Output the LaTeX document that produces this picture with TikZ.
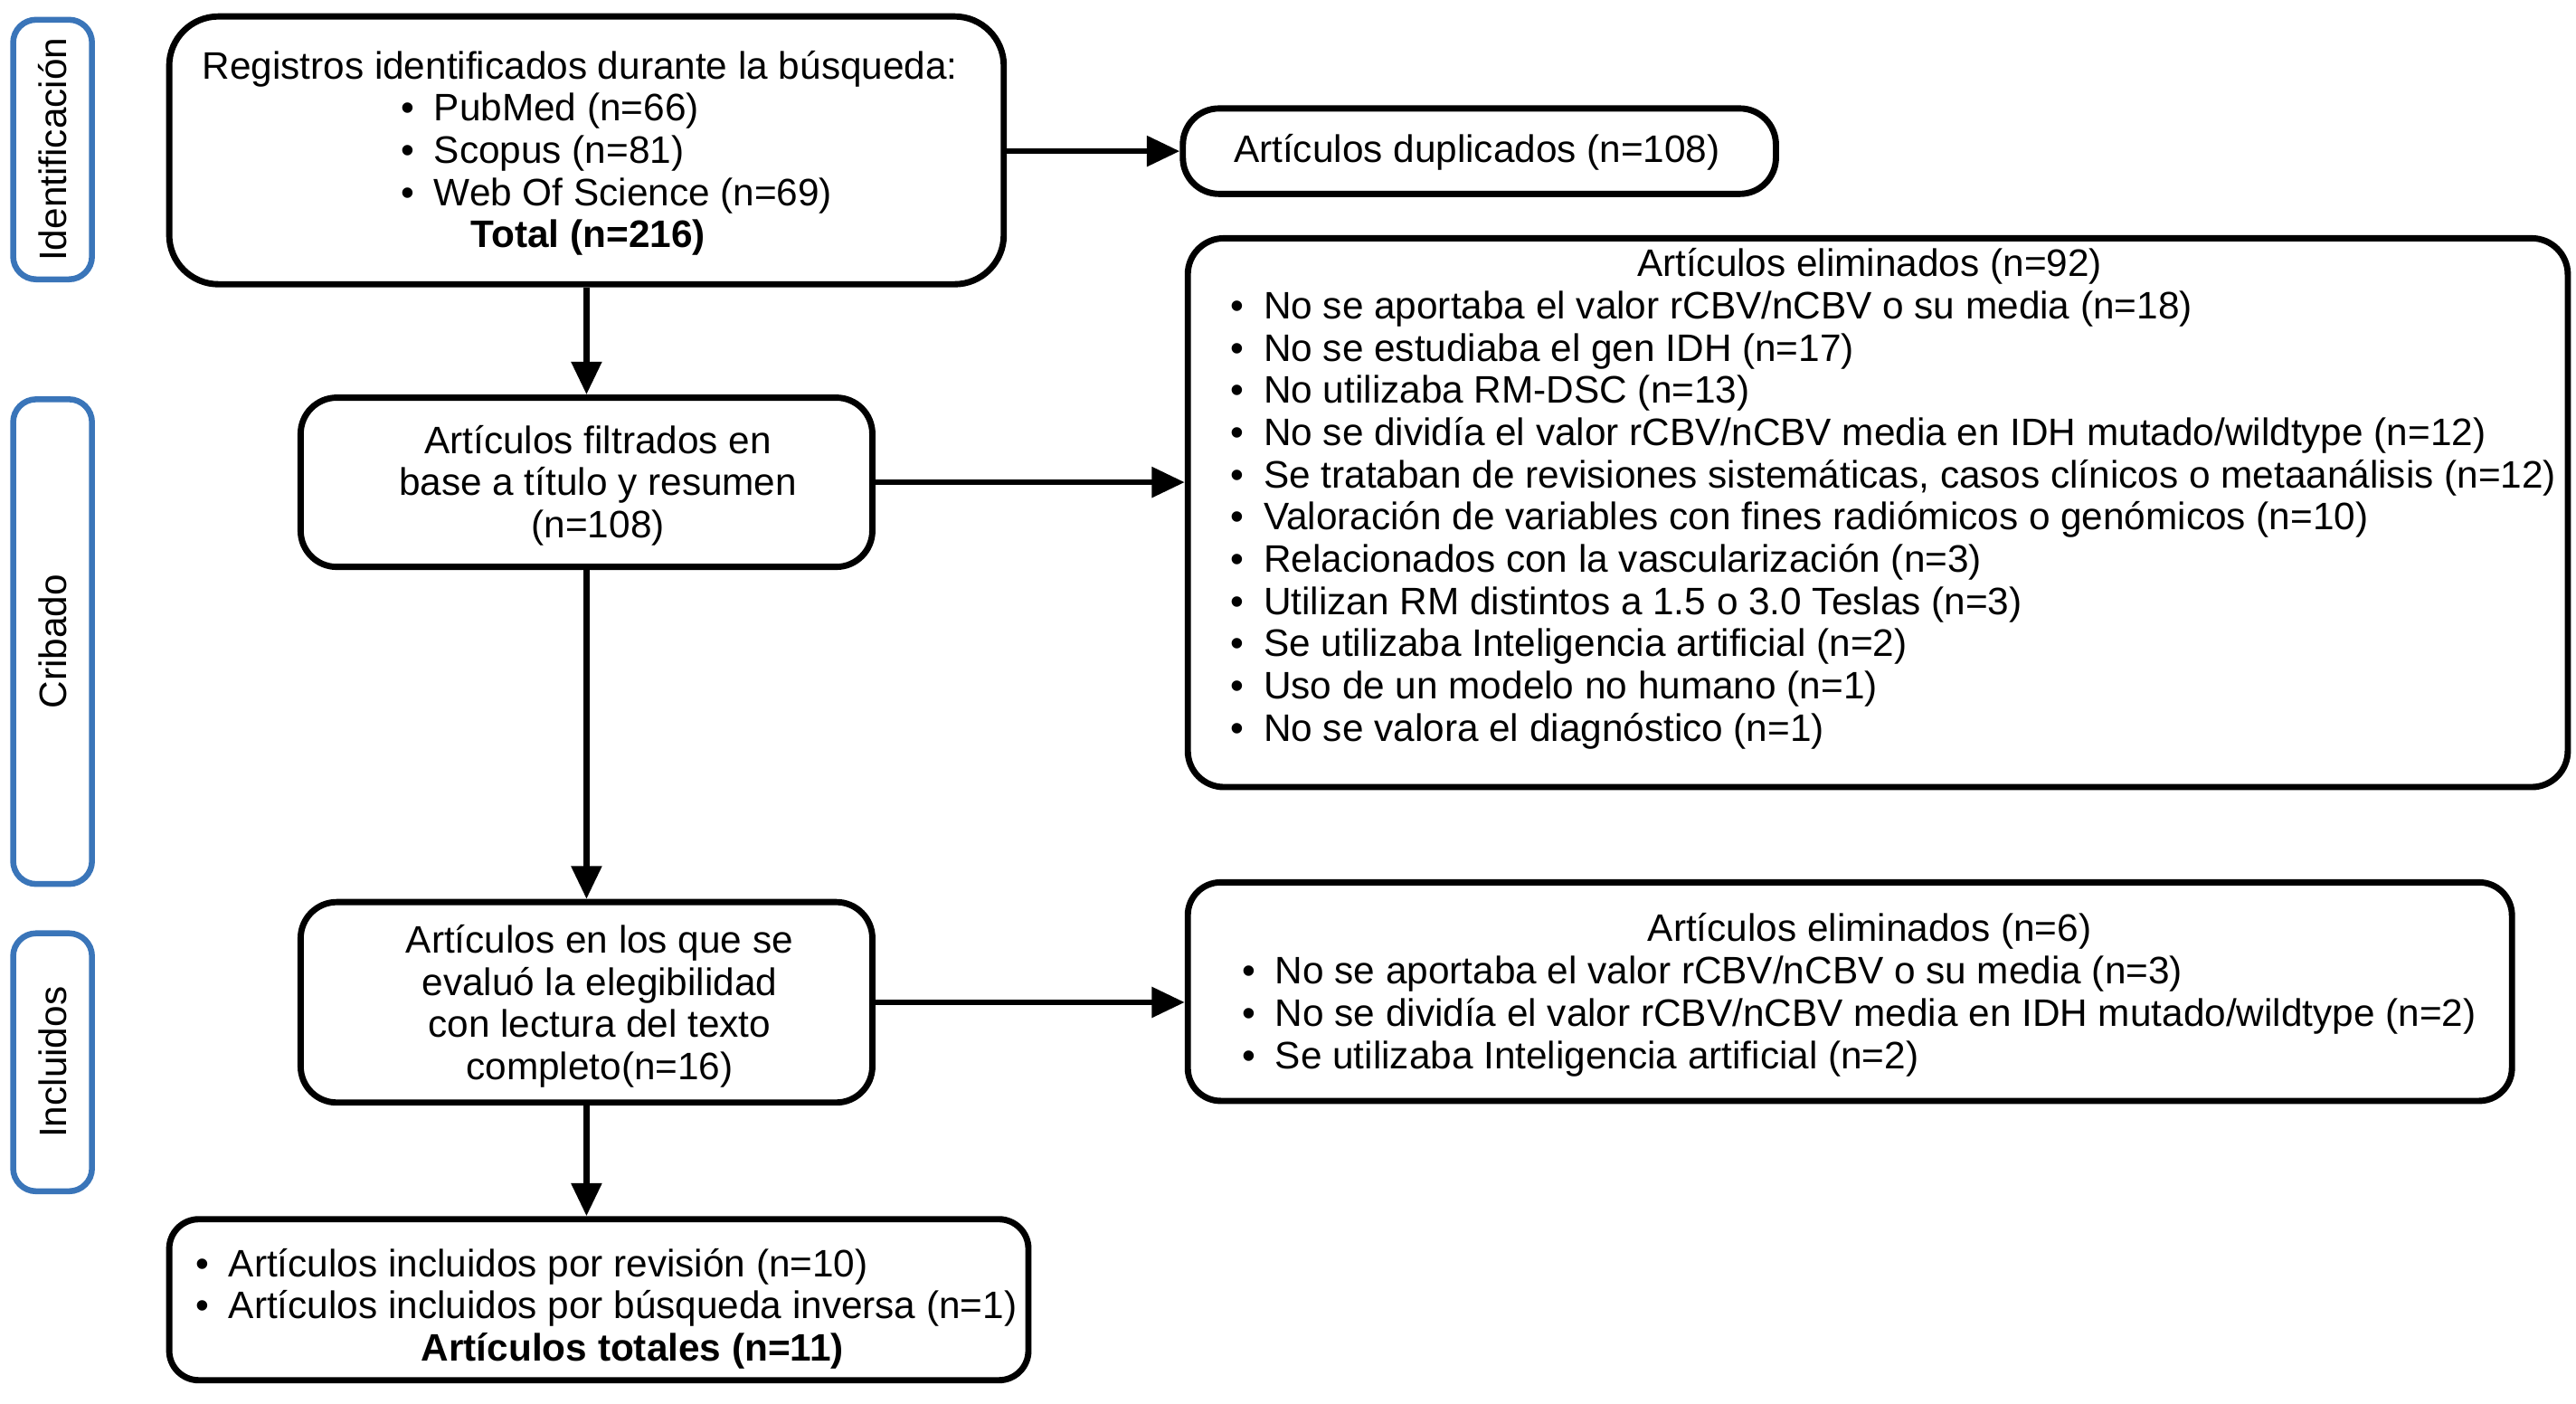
\documentclass[tikz,border=0pt]{standalone}
\usepackage{fontspec}
\setmainfont{Liberation Sans}
\usetikzlibrary{arrows.meta}
\definecolor{lblue}{RGB}{58,117,185}
\newcommand\dfont{\fontsize{23.3}{25.7}\selectfont}
\newcommand\bl{\makebox[20pt][l]{•}}
\begin{document}
\begin{tikzpicture}[x=1pt,y=-1pt,
  box/.style={draw=black, line width=3.8pt, rounded corners=#1, inner sep=0pt},
  side/.style={draw=lblue, line width=3.6pt, rounded corners=14pt, inner sep=0pt, minimum width=48pt},
  txt/.style={inner sep=0pt, font=\dfont, anchor=base},
  ltxt/.style={inner sep=0pt, font=\dfont, anchor=base west},
  sidetxt/.style={inner sep=0pt, font=\dfont, rotate=90},
  arr/.style={line width=3.6pt, -{Triangle[length=20pt,width=18pt]}}
]
\useasboundingbox (0,0) rectangle (1568,854);

% side labels
\node[side, minimum height=158pt] (sid) at (32,91) {};
\node[sidetxt] (sidt) at (sid.center) {Identificación};
\node[side, minimum height=295pt] (scr) at (32,390.5) {};
\node[sidetxt] (scrt) at (scr.center) {Cribado};
\node[side, minimum height=157pt] (sin) at (32,646.5) {};
\node[sidetxt] (sint) at (sin.center) {Incluidos};

% box 1
\node[box=30pt, minimum width=508pt, minimum height=163pt] (b1) at (357,91.5) {};
\node[txt] (t1a) at (353,48) {Registros identificados durante la búsqueda:};
\node[ltxt] (t1b) at (244,73.7) {\bl PubMed (n=66)};
\node[ltxt] (t1c) at (244,99.4) {\bl Scopus (n=81)};
\node[ltxt] (t1d) at (244,125.1) {\bl Web Of Science (n=69)};
\node[txt] (t1e) at (358,150.8) {\textbf{Total (n=216)}};

% duplicados
\node[box=22pt, minimum width=361pt, minimum height=52pt] (dup) at (900.5,92) {};
\node[txt] (tdup) at (899,99) {Artículos duplicados (n=108)};

% filtrados
\node[box=22pt, minimum width=348pt, minimum height=103pt] (filt) at (357,293.5) {};
\node[txt] (tf1) at (364,276) {Artículos filtrados en};
\node[txt] (tf2) at (364,301.7) {base a título y resumen};
\node[txt] (tf3) at (364,327.4) {(n=108)};

% eliminados 92
\node[box=22pt, minimum width=840pt, minimum height=334pt] (el) at (1143,312) {};
\node[txt] (te0) at (1138,168) {Artículos eliminados (n=92)};
\foreach \t [count=\i from 0] in {
  {No se aportaba el valor rCBV/nCBV o su media (n=18)},
  {No se estudiaba el gen IDH (n=17)},
  {No utilizaba RM-DSC (n=13)},
  {No se dividía el valor rCBV/nCBV media en IDH mutado/wildtype (n=12)},
  {Se trataban de revisiones sistemáticas, casos clínicos o metaanálisis (n=12)},
  {Valoración de variables con fines radiómicos o genómicos (n=10)},
  {Relacionados con la vascularización (n=3)},
  {Utilizan RM distintos a 1.5 o 3.0 Teslas (n=3)},
  {Se utilizaba Inteligencia artificial (n=2)},
  {Uso de un modelo no humano (n=1)},
  {No se valora el diagnóstico (n=1)}}
  \node[ltxt] (te\i) at (749,{194+\i*25.7}) {\bl\t};

% evaluados
\node[box=22pt, minimum width=348pt, minimum height=122pt] (ev) at (357,610) {};
\node[txt] (tv1) at (365,580) {Artículos en los que se};
\node[txt] (tv2) at (365,605.7) {evaluó la elegibilidad};
\node[txt] (tv3) at (365,631.4) {con lectura del texto};
\node[txt] (tv4) at (365,657.1) {completo(n=16)};

% eliminados 6
\node[box=20pt, minimum width=806pt, minimum height=133pt] (el6) at (1126,603.5) {};
\node[txt] (ts0) at (1138,573) {Artículos eliminados (n=6)};
\node[ltxt] (ts1) at (756,599) {\bl No se aportaba el valor rCBV/nCBV o su media (n=3)};
\node[ltxt] (ts2) at (756,624.7) {\bl No se dividía el valor rCBV/nCBV media en IDH mutado/wildtype (n=2)};
\node[ltxt] (ts3) at (756,650.4) {\bl Se utilizaba Inteligencia artificial (n=2)};

% final
\node[box=18pt, minimum width=523pt, minimum height=98pt] (fin) at (364.5,791) {};
\node[ltxt] (tn1) at (119,777) {\bl Artículos incluidos por revisión (n=10)};
\node[ltxt] (tn2) at (119,802.7) {\bl Artículos incluidos por búsqueda inversa (n=1)};
\node[txt] (tn3) at (385,828.4) {\textbf{Artículos totales (n=11)}};

% connectors
\draw[arr] (b1.east |- dup.west) -- (dup.west);
\draw[arr] (b1.south) -- (filt.north);
\draw[arr] (filt.east) -- (filt.east -| el.west);
\draw[arr] (filt.south) -- (ev.north);
\draw[arr] (ev.east) -- (ev.east -| el6.west);
\draw[arr] (ev.south) -- (ev.south |- fin.north);
\end{tikzpicture}
\end{document}
